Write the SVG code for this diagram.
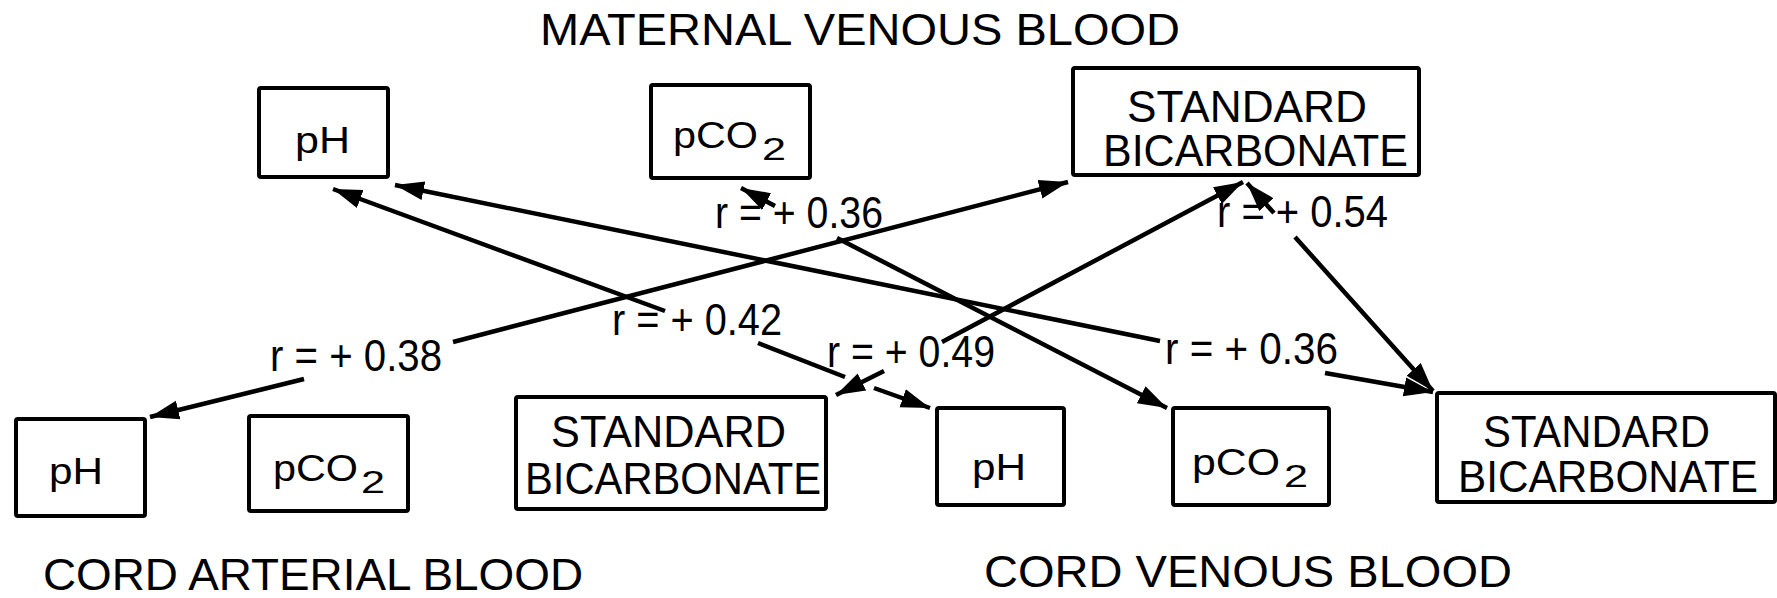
<svg xmlns="http://www.w3.org/2000/svg" width="1777" height="598" viewBox="0 0 1777 598">
  <style>
    text { font-family: "Liberation Sans", Arial, sans-serif; fill: #000; }
    .title { font-size: 44px; }
    .box { fill: #fff; stroke: #000; stroke-width: 4; }
    .lbl { font-size: 37px; }
    .sub { font-size: 31px; }
    .sb { font-size: 45px; }
    .r { font-size: 44px; }
    .conn { stroke: #000; stroke-width: 4.5; fill: none; marker-end: url(#ah); }
    .plain { stroke: #000; stroke-width: 4.5; fill: none; }
  </style>
  <defs>
    <marker id="ah" markerUnits="userSpaceOnUse" markerWidth="32" markerHeight="24" viewBox="0 -12 32 24" refX="29" refY="0" orient="auto">
      <path d="M0,-9.5 L29,0 L0,9.5 z" fill="#000"/>
    </marker>
  </defs>
  <rect width="1777" height="598" fill="#fff"/>

  <!-- group titles -->
  <text class="title" x="540" y="45" textLength="640" lengthAdjust="spacingAndGlyphs">MATERNAL VENOUS BLOOD</text>
  <text class="title" x="43" y="590" textLength="540" lengthAdjust="spacingAndGlyphs">CORD ARTERIAL BLOOD</text>
  <text class="title" x="984" y="587" textLength="528" lengthAdjust="spacingAndGlyphs">CORD VENOUS BLOOD</text>

  <!-- maternal nodes -->
  <g id="mat-ph">
    <rect class="box" x="259" y="88" width="129" height="89" rx="2"/>
    <text class="lbl" x="295" y="153" textLength="55" lengthAdjust="spacingAndGlyphs">pH</text>
  </g>
  <g id="mat-pco2">
    <rect class="box" x="651" y="85" width="159" height="93" rx="2"/>
    <text class="lbl" x="673" y="148" textLength="85" lengthAdjust="spacingAndGlyphs">pCO</text>
    <text class="sub" x="762" y="160" textLength="24" lengthAdjust="spacingAndGlyphs">2</text>
  </g>
  <g id="mat-sb">
    <rect class="box" x="1073" y="68" width="346" height="107" rx="2"/>
    <text class="sb" x="1127" y="122" textLength="240" lengthAdjust="spacingAndGlyphs">STANDARD</text>
    <text class="sb" x="1103" y="166" textLength="305" lengthAdjust="spacingAndGlyphs">BICARBONATE</text>
  </g>

  <!-- cord arterial nodes -->
  <g id="art-ph">
    <rect class="box" x="16" y="419" width="129" height="97" rx="2"/>
    <text class="lbl" x="49" y="484" textLength="54" lengthAdjust="spacingAndGlyphs">pH</text>
  </g>
  <g id="art-pco2">
    <rect class="box" x="249" y="416" width="159" height="95" rx="2"/>
    <text class="lbl" x="273" y="481" textLength="85" lengthAdjust="spacingAndGlyphs">pCO</text>
    <text class="sub" x="361" y="493" textLength="24" lengthAdjust="spacingAndGlyphs">2</text>
  </g>
  <g id="art-sb">
    <rect class="box" x="516" y="397" width="310" height="112" rx="2"/>
    <text class="sb" x="551" y="447" textLength="235" lengthAdjust="spacingAndGlyphs">STANDARD</text>
    <text class="sb" x="525" y="494" textLength="296" lengthAdjust="spacingAndGlyphs">BICARBONATE</text>
  </g>

  <!-- cord venous nodes -->
  <g id="ven-ph">
    <rect class="box" x="937" y="408" width="127" height="97" rx="2"/>
    <text class="lbl" x="972" y="480" textLength="54" lengthAdjust="spacingAndGlyphs">pH</text>
  </g>
  <g id="ven-pco2">
    <rect class="box" x="1173" y="408" width="156" height="97" rx="2"/>
    <text class="lbl" x="1192" y="475" textLength="88" lengthAdjust="spacingAndGlyphs">pCO</text>
    <text class="sub" x="1284" y="487" textLength="24" lengthAdjust="spacingAndGlyphs">2</text>
  </g>
  <g id="ven-sb">
    <rect class="box" x="1437" y="393" width="338" height="109" rx="2"/>
    <text class="sb" x="1483" y="447" textLength="227" lengthAdjust="spacingAndGlyphs">STANDARD</text>
    <text class="sb" x="1458" y="492" textLength="300" lengthAdjust="spacingAndGlyphs">BICARBONATE</text>
  </g>

  <!-- connectors -->
  <g id="connectors">
    <!-- maternal pCO2 <-> cord venous pCO2, r = +0.36 -->
    <line class="conn" x1="775" y1="206" x2="741" y2="188"/>
    <line class="conn" x1="837" y1="238" x2="1167" y2="408"/>
    <!-- maternal pH <-> cord venous pH, r = +0.42 -->
    <line class="conn" x1="665" y1="311" x2="333" y2="189"/>
    <line class="plain" x1="758" y1="343" x2="845" y2="377"/>
    <line class="conn" x1="874" y1="388" x2="930" y2="408"/>
    <!-- maternal pH <-> cord venous SB, r = +0.36 -->
    <line class="conn" x1="1160" y1="341" x2="395" y2="185"/>
    <line class="conn" x1="1325" y1="373" x2="1433" y2="392"/>
    <!-- cord arterial pH <-> maternal SB, r = +0.38 -->
    <line class="conn" x1="304" y1="379" x2="150" y2="417"/>
    <line class="conn" x1="453" y1="342" x2="1068" y2="182"/>
    <!-- cord arterial SB <-> maternal SB, r = +0.49 -->
    <line class="conn" x1="942" y1="342" x2="1243" y2="182"/>
    <line class="conn" x1="884" y1="371" x2="836" y2="395"/>
    <!-- maternal SB <-> cord venous SB, r = +0.54 -->
    <line class="conn" x1="1274" y1="213" x2="1247" y2="183"/>
    <line class="conn" x1="1295" y1="237" x2="1433" y2="391"/>

    <text class="r" x="715" y="228" textLength="168" lengthAdjust="spacingAndGlyphs">r = + 0.36</text>
    <text class="r" x="1217" y="227" textLength="171" lengthAdjust="spacingAndGlyphs">r = + 0.54</text>
    <text class="r" x="612" y="335" textLength="170" lengthAdjust="spacingAndGlyphs">r = + 0.42</text>
    <text class="r" x="827" y="367" textLength="168" lengthAdjust="spacingAndGlyphs">r = + 0.49</text>
    <text class="r" x="270" y="371" textLength="172" lengthAdjust="spacingAndGlyphs">r = + 0.38</text>
    <text class="r" x="1165" y="364" textLength="173" lengthAdjust="spacingAndGlyphs">r = + 0.36</text>
  </g>
</svg>
